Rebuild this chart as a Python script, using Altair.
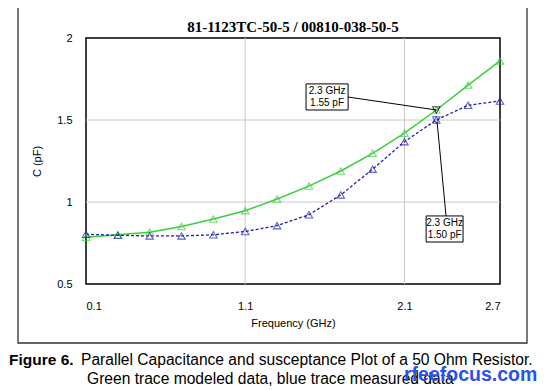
import altair as alt
import pandas as pd

# ---- data ----
freq = [0.1, 0.3, 0.5, 0.7, 0.9, 1.1, 1.3, 1.5, 1.7, 1.9, 2.1, 2.3, 2.5, 2.7]
modeled = [0.785, 0.80, 0.815, 0.85, 0.896, 0.947, 1.018, 1.097, 1.189, 1.297, 1.42, 1.561, 1.713, 1.86]
measured = [0.803, 0.797, 0.793, 0.793, 0.80, 0.82, 0.856, 0.922, 1.043, 1.20, 1.368, 1.50, 1.59, 1.616]
series_names = ["Modeled", "Measured"]
series_colors = ["#3ccf3c", "#2121b0"]
x_ticks = [0.1, 1.1, 2.1, 2.7]
y_ticks = [0.5, 1, 1.5, 2]
grid_x = [1.1, 2.1]
grid_y = [1.0, 1.5]

marker_f = [2.3, 2.3]
marker_c = [1.561, 1.50]
marker_color = ["#000000", "#2121b0"]

box_text = ["2.3 GHz\n1.55 pF", "2.3 GHz\n1.50 pF"]
box_x = [1.482, 2.236]
box_x2 = [1.746, 2.468]
box_y = [1.720, 0.915]
box_y2 = [1.561, 0.756]
lead_x = [1.746, 2.361]
lead_y = [1.640, 0.915]
lead_x2 = [2.30, 2.305]
lead_y2 = [1.561, 1.488]

title_text = "81-1123TC-50-5 / 00810-038-50-5"
caption_bold = "Figure 6."
caption_1 = "Parallel Capacitance and susceptance Plot of a 50 Ohm Resistor."
caption_2 = "Green trace modeled data, blue trace measured data"
watermark = "rfeefocus.com"

W, H = 414, 246

df = pd.DataFrame({
    "f": freq * 2,
    "c": modeled + measured,
    "series": [series_names[0]] * len(freq) + [series_names[1]] * len(freq),
})

xs = alt.Scale(domain=[0.1, 2.7], nice=False, zero=False)
ys = alt.Scale(domain=[0.5, 2.0], nice=False, zero=False)
cs = alt.Scale(domain=series_names, range=series_colors)

x_axis = alt.Axis(values=x_ticks, format="~g", grid=False, ticks=False, domain=False,
                  labelPadding=16, titlePadding=6, labelFontSize=11, titleFontSize=11,
                  titleFontWeight="normal", labelColor="black", titleColor="black",
                  labelFont="Liberation Sans", titleFont="Liberation Sans")
y_axis = alt.Axis(values=y_ticks, format="~g", grid=False, ticks=False, domain=False,
                  labelPadding=14, titlePadding=14, labelFontSize=11, titleFontSize=11,
                  titleFontWeight="normal", labelColor="black", titleColor="black",
                  labelFont="Liberation Sans", titleFont="Liberation Sans")
X = alt.X("f:Q", scale=xs, title="Frequency (GHz)", axis=x_axis)
Y = alt.Y("c:Q", scale=ys, title="C (pF)", axis=y_axis)

gx = alt.Chart(pd.DataFrame({"f": grid_x})).mark_rule(color="#c8c8c8", strokeWidth=1).encode(x=X)
gy = alt.Chart(pd.DataFrame({"c": grid_y})).mark_rule(color="#c8c8c8", strokeWidth=1).encode(y=Y)

base = alt.Chart(df)
col = alt.Color("series:N", scale=cs, legend=None)
green_line = base.transform_filter(alt.datum.series == series_names[0]).mark_line(
    strokeWidth=1.5).encode(x=X, y=Y, color=col)
blue_line = base.transform_filter(alt.datum.series == series_names[1]).mark_line(
    strokeWidth=1.3, strokeDash=[3, 2]).encode(x=X, y=Y, color=col)
pts = base.mark_point(shape="triangle-up", filled=False, size=55, strokeWidth=1.1).encode(
    x=X, y=Y, color=col)

mk = alt.Chart(pd.DataFrame({"f": marker_f, "c": marker_c, "col": marker_color})).mark_point(
    shape="triangle-down", filled=False, size=55, strokeWidth=1.1).encode(
    x=X, y=Y, stroke=alt.Stroke("col:N", scale=None))

leads = alt.Chart(pd.DataFrame({"f": lead_x, "c": lead_y, "f2": lead_x2, "c2": lead_y2})).mark_rule(
    color="black", strokeWidth=1).encode(x=X, y=Y, x2="f2:Q", y2="c2:Q")
boxes = alt.Chart(pd.DataFrame({"f": box_x, "f2": box_x2, "c": box_y, "c2": box_y2})).mark_rect(
    fill="white", stroke="black", strokeWidth=1).encode(x=X, x2="f2:Q", y=Y, y2="c2:Q")
centers = pd.DataFrame({
    "f": [(a + b) / 2 for a, b in zip(box_x, box_x2)],
    "c": [(a + b) / 2 for a, b in zip(box_y, box_y2)],
    "t": box_text,
})
btxt = alt.Chart(centers).mark_text(font="Liberation Sans", fontSize=10, lineBreak="\n", lineHeight=12,
                                    color="black", baseline="middle", dy=-6).encode(x=X, y=Y, text="t:N")

one = alt.Data(values=[{}])
outer = alt.Chart(one).mark_rect(fill=None, stroke="#333333", strokeWidth=1.3).encode(
    x=alt.value(-68), x2=alt.value(441), y=alt.value(-35), y2=alt.value(305))
ttl = alt.Chart(one).mark_text(text=title_text, font="Liberation Serif", fontWeight="bold",
                               fontSize=15, align="center", baseline="alphabetic", color="black").encode(
    x=alt.value(W / 2), y=alt.value(-6))
cap_b = alt.Chart(one).mark_text(text=caption_bold, font="Liberation Sans", fontWeight="bold",
                                 fontSize=15.5, align="left", baseline="middle", color="black").encode(
    x=alt.value(-77), y=alt.value(322))
cap_1 = alt.Chart(one).mark_text(text=caption_1, font="Liberation Sans", fontSize=15.6,
                                 align="left", baseline="middle", color="black").encode(
    x=alt.value(-5), y=alt.value(322))
cap_2 = alt.Chart(one).mark_text(text=caption_2, font="Liberation Sans", fontSize=15.6,
                                 align="left", baseline="middle", color="black").encode(
    x=alt.value(1), y=alt.value(341))
wm = alt.Chart(one).mark_text(text=watermark, font="Liberation Sans", fontWeight="bold",
                              fontSize=19.5, align="left", baseline="middle", color="#2b50ee").encode(
    x=alt.value(318), y=alt.value(337))

chart = alt.layer(gx, gy, green_line, blue_line, pts, mk, leads, boxes, btxt,
                  outer, ttl, cap_b, cap_1, cap_2, wm).properties(
    width=W, height=H,
    autosize=alt.AutoSizeParams(type="none"),
    padding={"left": 78, "top": 30, "right": 40, "bottom": 110},
).configure(background="white").configure_view(stroke="black", strokeWidth=1.5)

chart.save("out.html", embed_options={"renderer": "svg", "actions": False})
